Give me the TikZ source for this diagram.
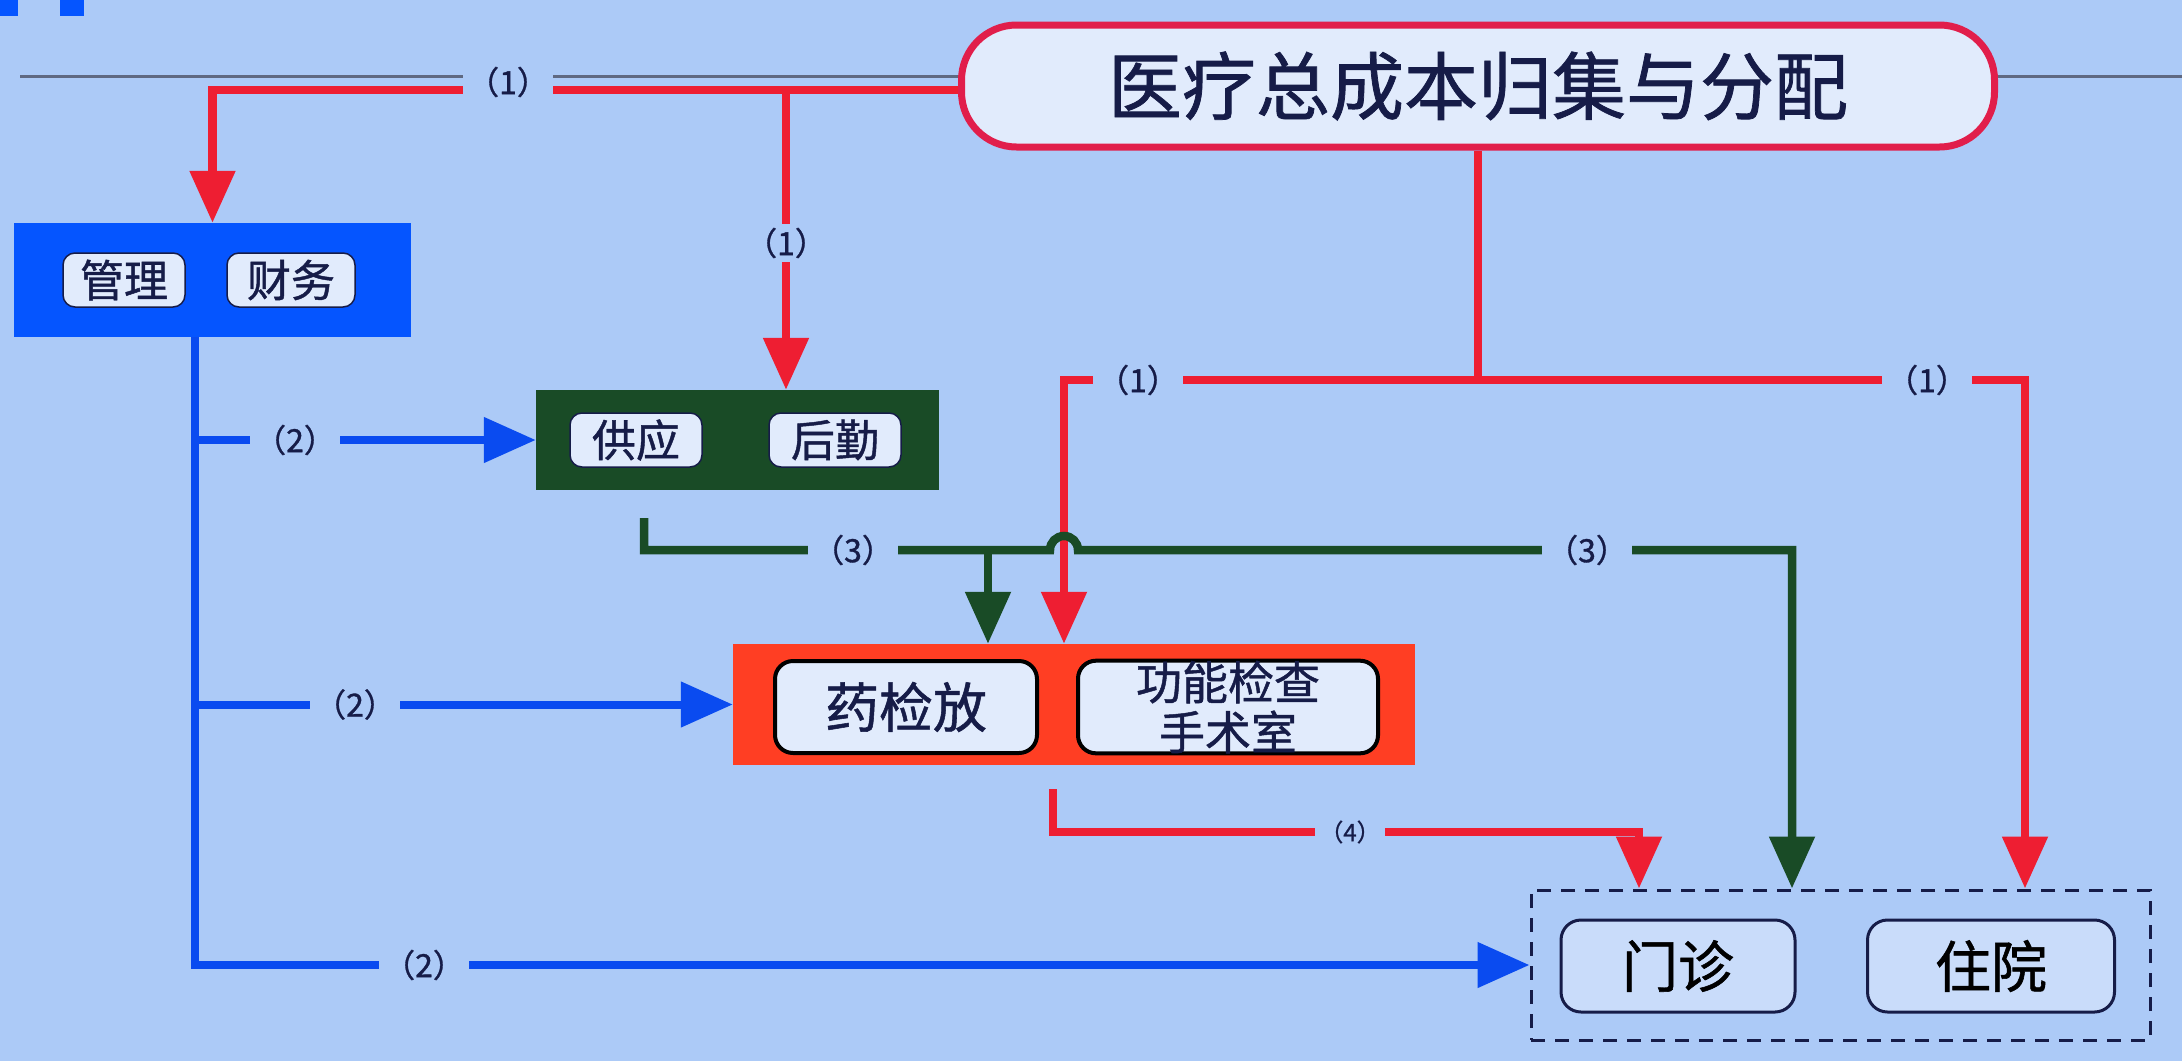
\documentclass[tikz,border=0pt]{standalone}
\usepackage{fontspec}
\newfontfamily\cjk[FakeBold=1]{Noto Sans CJK SC}
\usetikzlibrary{arrows.meta,calc}
\definecolor{bg}{RGB}{172,202,247}
\definecolor{crim}{RGB}{225,30,75}
\definecolor{linkred}{RGB}{238,30,50}
\definecolor{boxred}{RGB}{255,62,35}
\definecolor{boxblue}{RGB}{5,85,255}
\definecolor{lineblue}{RGB}{10,75,240}
\definecolor{dgreen}{RGB}{25,75,38}
\definecolor{navy}{RGB}{22,28,72}
\definecolor{pale}{RGB}{225,235,252}
\definecolor{grayline}{RGB}{95,105,130}
\begin{document}
\begin{tikzpicture}[x=1pt,y=-1pt,
  tip/.style={-{Triangle[width=44pt,length=52pt]}},
  redln/.style={draw=linkred, line width=8.5pt},
  bluln/.style={draw=lineblue, line width=8pt},
  grnln/.style={draw=dgreen, line width=8.5pt},
  lbl/.style={fill=bg, text=navy, inner sep=4pt, font=\cjk\fontsize{32pt}{32pt}\selectfont},
  lblsmall/.style={lbl, font=\cjk\fontsize{24pt}{24pt}\selectfont},
  group/.style={draw=none, inner sep=0pt},
  pill/.style={draw=navy, line width=1.5pt, fill=pale, rounded corners=12pt, inner sep=0pt, text=navy,
    minimum height=54pt, font=\cjk\fontsize{44pt}{44pt}\selectfont},
  bigpill/.style={draw=black, line width=4pt, fill=pale, rounded corners=18pt, inner sep=0pt, text=navy,
    minimum height=92pt, align=center},
  ward/.style={draw=navy, line width=3pt, fill=pale!55!bg, rounded corners=20pt, inner sep=0pt, text=black,
    minimum height=92pt, font=\cjk\fontsize{56pt}{56pt}\selectfont}
]
\fill[bg] (0,0) rectangle (2182,1061);
\useasboundingbox (0,0) rectangle (2182,1061);
\fill[boxblue] (0,0) rectangle (18,16);
\fill[boxblue] (60,0) rectangle (84,16);
% separator line
\draw[grayline, line width=3pt] (20,76) -- (2182,76);

% main node
\node[draw=crim, line width=7pt, fill=pale, rounded corners=55pt, minimum width=1033pt, minimum height=122pt,
  text=navy, font=\cjk\fontsize{74pt}{74pt}\selectfont] (main) at (1478,86) {医疗总成本归集与分配};

% groups
\node[group, fill=boxblue, minimum width=397pt, minimum height=114pt] (blue) at (212.5,280) {};
\node[pill, minimum width=122pt] (guanli) at (124,280) {管理};
\node[pill, minimum width=128pt] (caiwu) at (291,280) {财务};

\node[group, fill=dgreen, minimum width=403pt, minimum height=100pt] (green) at (737.5,440) {};
\node[pill, minimum width=132pt] (gongying) at (636,440) {供应};
\node[pill, minimum width=132pt] (houqin) at (835,440) {后勤};

\node[group, fill=boxred, minimum width=682pt, minimum height=121pt] (redbox) at (1074,704.5) {};
\node[bigpill, minimum width=262pt, font=\cjk\fontsize{54pt}{54pt}\selectfont] (yao) at (906,707) {药检放};
\node[bigpill, minimum width=300pt, font=\cjk\fontsize{46pt}{50pt}\selectfont] (gong) at (1228,707) {功能检查\\手术室};

\node[draw=navy, line width=3pt, dash pattern=on 14pt off 10pt, inner sep=0pt,
  minimum width=619pt, minimum height=150pt] (dbox) at (1840.5,965) {};
\node[ward, minimum width=234pt] (menzhen) at (1678,966) {门诊};
\node[ward, minimum width=247pt] (zhuyuan) at (1991,966) {住院};

% coordinates
\coordinate (jg) at (786,90);
\coordinate (jm) at (1478,380);
\coordinate (rl) at (1064,380);
\coordinate (rr) at (2025,380);
\coordinate (g0) at (644,518);
\coordinate (g1) at (644,550);
\coordinate (gb) at (988,550);
\coordinate (g2) at (1792,550);
\coordinate (r0) at (1053,789);
\coordinate (r2) at (1639,832);
\coordinate (bv) at (195,0);
\coordinate (mw) at ($(main.west)+(0,4)$);

% red (1) connectors
\draw[redln, tip] (mw) -| (blue.north);
\draw[redln, tip] (jg) -- (jg |- green.north);
\draw[redln] (main.south) -- (jm);
\draw[redln, tip] (jm) -| (rl |- redbox.north);
\draw[redln, tip] (jm) -| (rr |- dbox.north);

% green (3) connectors
\draw[grnln, tip] (g0) -- (g1) -- ($(g1 -| rl)+(-14,0)$) arc[start angle=180, end angle=360, radius=14] -- (g2) -- (g2 |- dbox.north);
\draw[grnln, tip] (gb) -- (gb |- redbox.north);

% red (4)
\draw[redln, tip] (r0) |- (r2) -- (r2 |- dbox.north);

% blue (2)
\draw[bluln, tip] (blue.south -| bv) |- (dbox.west);
\draw[bluln, tip] (bv |- green.west) -- (green.west);
\draw[bluln, tip] (bv |- redbox.west) -- (redbox.west);

% labels
\node[lbl] (la1) at (508,82) {（1）};
\node[lbl] (la2) at (786,243) {（1）};
\node[lbl] (la3) at (1138,380) {（1）};
\node[lbl] (la4) at (1927,380) {（1）};
\node[lbl] (lb1) at (295,440) {（2）};
\node[lbl] (lb2) at (355,704.5) {（2）};
\node[lbl] (lb3) at (424,965) {（2）};
\node[lbl] (lc1) at (853,550) {（3）};
\node[lbl] (lc2) at (1587,550) {（3）};
\node[lblsmall] (ld1) at (1350,832) {（4）};
\end{tikzpicture}
\end{document}
